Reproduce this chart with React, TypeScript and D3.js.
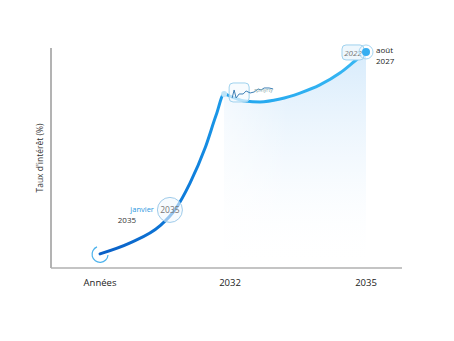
import React from "react";
import * as d3 from "d3";

const years = [2029, 2029.68, 2030.35, 2030.69, 2031.03, 2031.37, 2031.62, 2031.8, 2031.98, 2032.27, 2032.61, 2033.06, 2033.51, 2033.96, 2034.41, 2034.75, 2035];
const rates = [0.64, 1.14, 1.91, 2.64, 3.86, 5.45, 6.95, 7.91, 7.77, 7.59, 7.55, 7.68, 7.95, 8.32, 8.86, 9.41, 9.82];
const tickValues = [2029, 2032, 2035];
const tickLabels = ["Années", "2032", "2035"];
const yLabel = "Taux d'intérêt (%)";

const W = 454, H = 341;
const margin = { left: 51, right: 52, top: 48, bottom: 73 };

export default function App() {
  const x = d3.scaleLinear().domain([2029, 2035]).range([100, 366]);
  const y = d3.scaleLinear().domain([0, 10]).range([H - margin.bottom, margin.top]);
  const pts = years.map((yr, i) => ({ yr, r: rates[i] }));
  const line = d3.line<any>().x(d => x(d.yr)).y(d => y(d.r)).curve(d3.curveMonotoneX);
  const peakIdx = 7;
  const areaPts = pts.slice(peakIdx);
  const area = d3.area<any>().x(d => x(d.yr)).y0(y(0)).y1(d => y(d.r)).curve(d3.curveMonotoneX);
  const font = "'Open Sans', 'Noto Sans', sans-serif";
  const x0 = margin.left, xEnd = W - margin.right, yBase = y(0);
  const start = pts[0];
  const mid = pts[3];
  const peak = pts[peakIdx];
  const last = pts[pts.length - 1];
  return (
    <svg width={W} height={H} style={{ position: "absolute", left: 0, top: 0, background: "#fff" }}>
      <defs>
        <linearGradient id="lg" gradientUnits="userSpaceOnUse" x1={x(2029)} x2={x(2035)} y1={0} y2={0}>
          <stop offset="0" stopColor="#0a5fc6" />
          <stop offset="0.35" stopColor="#0f7fdc" />
          <stop offset="0.5" stopColor="#22a6ee" />
          <stop offset="1" stopColor="#38b7f3" />
        </linearGradient>
        <linearGradient id="ag" x1="0" x2="0" y1="0" y2="1">
          <stop offset="0" stopColor="#d3e9fb" stopOpacity="0.9" />
          <stop offset="0.55" stopColor="#e9f4fd" stopOpacity="0.45" />
          <stop offset="1" stopColor="#ffffff" stopOpacity="0" />
        </linearGradient>
        <linearGradient id="ag2" x1="0" x2="1" y1="0" y2="0">
          <stop offset="0" stopColor="#fff" stopOpacity="0.55" />
          <stop offset="0.45" stopColor="#fff" stopOpacity="0" />
        </linearGradient>
      </defs>
      <path d={area(areaPts) || ""} fill="url(#ag)" />
      <path d={area(areaPts) || ""} fill="url(#ag2)" />
      {/* axes */}
      <line x1={x0} x2={x0} y1={margin.top} y2={yBase} stroke="#9a9a9a" strokeWidth={1.5} />
      <line x1={x0} x2={xEnd} y1={yBase} y2={yBase} stroke="#b0b0b0" strokeWidth={1.5} />
      {tickValues.map((t, i) => (
        <text key={i} x={x(t) - (i === 1 ? 3 : 0)} y={yBase + 18} textAnchor="middle" fontFamily={font} fontSize={9.5} fill="#222">{tickLabels[i]}</text>
      ))}
      <text transform={`translate(${x0 - 8},${(margin.top + yBase) / 2}) rotate(-90)`} textAnchor="middle" fontFamily={font} fontSize={8.5} fill="#333">{yLabel}</text>
      {/* line */}
      <path d={line(pts) || ""} fill="none" stroke="url(#lg)" strokeWidth={3} strokeLinecap="round" />
      {/* start marker */}
      <path d={`M${x(start.yr) - 3},${y(start.r) - 7} A8,8 0 1,0 ${x(start.yr) + 8},${y(start.r) + 1}`} fill="none" stroke="#4cb2ec" strokeWidth={1.2} />
      {/* mid annotation */}
      <circle cx={x(mid.yr) - 5} cy={y(mid.r)} r={12.5} fill="#f2f8fd" fillOpacity={0.6} stroke="#9fcbea" strokeWidth={1} />
      <text x={x(mid.yr) - 5} y={y(mid.r) + 3} textAnchor="middle" fontFamily={font} fontSize={8.5} fill="#777">2035</text>
      <text x={x(mid.yr) - 21} y={y(mid.r) + 2} textAnchor="end" fontFamily={font} fontSize={7.5} fill="#2a98e0">janvier</text>
      <text x={x(mid.yr) - 48} y={y(mid.r) + 13} textAnchor="middle" fontFamily={font} fontSize={8} fill="#333">2035</text>
      {/* peak bubble */}
      <circle cx={x(peak.yr)} cy={y(peak.r)} r={3} fill="#bfe4f8" />
      <rect x={x(peak.yr) + 5} y={y(peak.r) - 11} width={20} height={19} rx={4} fill="#f4fafe" fillOpacity={0.7} stroke="#9fd2ee" strokeWidth={1} />
      <path d={`M${x(peak.yr) + 8},${y(peak.r) + 4} l2,-8 l2,8 l3,-4 l4,0 l3,-3 l4,2 l4,-1 l4,-3 l3,1 l3,-2 l5,0 l4,1`} fill="none" stroke="#3d7fb5" strokeWidth={1} />
      <text x={x(peak.yr) + 30} y={y(peak.r) - 2} fontFamily={font} fontSize={5} fill="#8aa">rpmyrty</text>
      {/* end annotation */}
      <rect x={x(last.yr) - 24} y={y(last.r) - 7} width={22} height={15} rx={4} fill="#eef7fd" stroke="#9fd2ee" strokeWidth={1} />
      <text x={x(last.yr) - 13} y={y(last.r) + 4} textAnchor="middle" fontFamily={font} fontSize={8} fontStyle="italic" fill="#777">2022</text>
      <circle cx={x(last.yr)} cy={y(last.r)} r={7} fill="none" stroke="#a6d6f2" strokeWidth={1} />
      <circle cx={x(last.yr)} cy={y(last.r)} r={4} fill="#36aef1" />
      <text x={x(last.yr) + 10} y={y(last.r) + 1} fontFamily={font} fontSize={8} fill="#222">août</text>
      <text x={x(last.yr) + 10} y={y(last.r) + 12} fontFamily={font} fontSize={8} fill="#222">2027</text>
    </svg>
  );
}
